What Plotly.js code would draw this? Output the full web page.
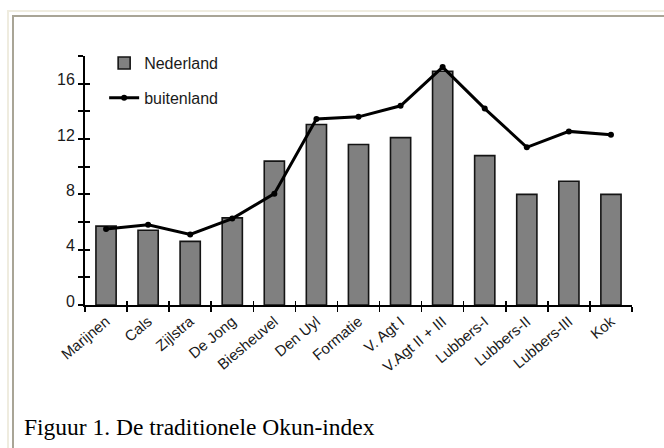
<!DOCTYPE html>
<html>
<head>
<meta charset="utf-8">
<script src="https://cdn.plot.ly/plotly-3.0.1.min.js"></script>
<style>
  html, body { margin: 0; padding: 0; background: #ffffff; }
  #wrap { position: relative; width: 664px; height: 448px; overflow: hidden; background: #ffffff; }
  #frame1 { position: absolute; left: 7px; top: 10px; right: -20px; bottom: -20px;
            border-left: 2px solid #efecdf; border-top: 2px solid #efecdf; }
  #frame2 { position: absolute; left: 12px; top: 15px; right: -20px; bottom: -20px;
            border-left: 2px solid #a9a596; border-top: 2px solid #a9a596; }
  #chart { position: absolute; left: 0; top: 0; width: 664px; height: 448px; }
</style>
</head>
<body>
<div id="wrap">
  <div id="frame1"></div>
  <div id="frame2"></div>
  <div id="chart"></div>
</div>
<script>
// ---- data ----
const categories = ["Marijnen", "Cals", "Zijlstra", "De Jong", "Biesheuvel", "Den Uyl", "Formatie",
                    "V. Agt I", "V.Agt II + III", "Lubbers-I", "Lubbers-II", "Lubbers-III", "Kok"];
const nederland  = [5.7, 5.4, 4.6, 6.3, 10.4, 13.05, 11.6, 12.1, 16.9, 10.8, 8.0, 8.95, 8.0];
const buitenland = [5.5, 5.8, 5.1, 6.25, 8.05, 13.45, 13.6, 14.4, 17.2, 14.2, 11.4, 12.55, 12.3];
const yTickVals  = [0, 2, 4, 6, 8, 10, 12, 14, 16, 18];
const yTickText  = ["0", "", "4", "", "8", "", "12", "", "16", ""];
const caption    = "Figuur 1. De traditionele Okun-index";

const sans = "Liberation Sans, Arial, sans-serif";

const traces = [
  {
    type: "bar", name: "Nederland", x: categories, y: nederland,
    width: 0.48,
    marker: { color: "#808080", line: { color: "#141414", width: 1.6 } },
    legendgroup: "a", hoverinfo: "skip"
  },
  {
    type: "scatter", mode: "lines+markers", name: "buitenland", x: categories, y: buitenland,
    line: { color: "#000000", width: 3 },
    marker: { color: "#000000", size: 6 },
    legendgroup: "b", hoverinfo: "skip"
  },
  { // carrier for the overlay axes (inner half of crossing ticks)
    type: "scatter", mode: "markers", x: [], y: [], xaxis: "x2", yaxis: "y2",
    showlegend: false, hoverinfo: "skip"
  }
];

const layout = {
  width: 664, height: 448,
  margin: { l: 85, r: 32, t: 56, b: 143 },
  paper_bgcolor: "rgba(0,0,0,0)",
  plot_bgcolor: "rgba(0,0,0,0)",
  font: { family: sans, color: "#1a1a1a" },
  showlegend: true,
  legend: {
    x: 0.035, y: 1.04, xanchor: "left", yanchor: "top",
    bgcolor: "rgba(0,0,0,0)", font: { family: sans, size: 16, color: "#1a1a1a" },
    traceorder: "grouped", tracegroupgap: 11
  },
  bargap: 0.5,
  xaxis: {
    type: "category", categoryorder: "array", categoryarray: categories,
    range: [-0.5, 12.5], fixedrange: true,
    tickson: "boundaries", ticks: "outside", ticklen: 5, tickwidth: 1.5, tickcolor: "#000",
    showline: true, linecolor: "#000", linewidth: 2,
    showgrid: false, zeroline: false,
    tickangle: -40, tickfont: { family: sans, size: 15, color: "#1a1a1a" }
  },
  yaxis: {
    range: [0, 18], fixedrange: true,
    tickmode: "array", tickvals: yTickVals, ticktext: yTickText,
    ticks: "outside", ticklen: 5, tickwidth: 2, tickcolor: "#000",
    showline: true, linecolor: "#000", linewidth: 2,
    showgrid: false, zeroline: false,
    ticklabelstandoff: 0, ticklabelshift: -4,
    tickfont: { family: sans, size: 16, color: "#1a1a1a" }
  },
  xaxis2: {
    overlaying: "x", anchor: "y2", type: "linear", range: [-0.5, 12.5],
    tickmode: "linear", tick0: -0.5, dtick: 1,
    ticks: "inside", ticklen: 4, tickwidth: 1.5, tickcolor: "#000",
    showticklabels: false, showgrid: false, zeroline: false, showline: false, fixedrange: true
  },
  yaxis2: {
    overlaying: "y", anchor: "x2", side: "left", range: [0, 18],
    tickmode: "linear", tick0: 0, dtick: 2,
    ticks: "inside", ticklen: 5, tickwidth: 2, tickcolor: "#000",
    showticklabels: false, showgrid: false, zeroline: false, showline: false, fixedrange: true
  },
  annotations: [
    {
      text: caption, xref: "paper", yref: "paper",
      x: -0.116, y: -0.49, xanchor: "left", yanchor: "middle",
      showarrow: false,
      font: { family: "Liberation Serif, Times New Roman, serif", size: 23.5, color: "#000" }
    }
  ]
};

Plotly.newPlot("chart", traces, layout, { staticPlot: true, displayModeBar: false });
</script>
</body>
</html>
